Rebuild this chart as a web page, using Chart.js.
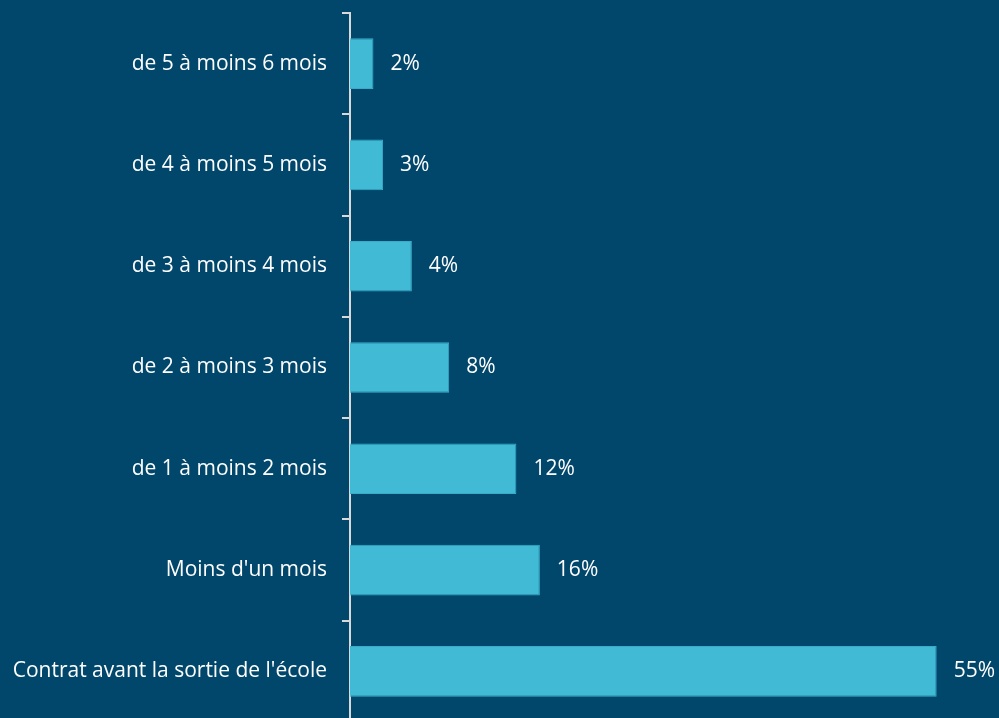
<!DOCTYPE html>
<html>
<head>
<meta charset="utf-8">
<script src="https://cdn.jsdelivr.net/npm/chart.js@4"></script>
<style>
  html, body { margin: 0; padding: 0; background: #00476B; overflow: hidden; }
  #wrap { position: relative; width: 999px; height: 718px; overflow: hidden; }
  #c { display: block; }
</style>
</head>
<body>
<div id="wrap"><canvas id="c" width="999" height="722"></canvas></div>
<script>
const categories = [
  "de 5 à moins 6 mois",
  "de 4 à moins 5 mois",
  "de 3 à moins 4 mois",
  "de 2 à moins 3 mois",
  "de 1 à moins 2 mois",
  "Moins d'un mois",
  "Contrat avant la sortie de l'école"
];
// bar lengths as drawn in the picture (percent)
const barValues = [2.2, 3.1, 5.8, 9.3, 15.6, 17.8, 55];
// value labels as printed next to each bar
const valueLabels = ["2%", "3%", "4%", "8%", "12%", "16%", "55%"];

const FONT = "'Open Sans', sans-serif";

const valueLabelPlugin = {
  id: 'valueLabels',
  afterDatasetsDraw(chart) {
    const ctx = chart.ctx;
    const meta = chart.getDatasetMeta(0);
    ctx.save();
    ctx.font = "21px " + FONT;
    ctx.fillStyle = "#ffffff";
    ctx.textAlign = "left";
    ctx.textBaseline = "middle";
    meta.data.forEach((bar, i) => {
      ctx.fillText(valueLabels[i], bar.x + 17, bar.y);
    });
    ctx.restore();
  }
};

new Chart(document.getElementById('c'), {
  type: 'bar',
  data: {
    labels: categories,
    datasets: [{
      data: barValues,
      backgroundColor: '#41BAD5',
      borderColor: '#38ACC8',
      borderWidth: 1,
      barPercentage: 0.5,
      categoryPercentage: 1.0
    }]
  },
  options: {
    indexAxis: 'y',
    responsive: false,
    animation: false,
    layout: { padding: { top: 13, right: 9, bottom: 0, left: 0 } },
    plugins: {
      legend: { display: false },
      tooltip: { enabled: false }
    },
    scales: {
      x: {
        display: false,
        min: 0,
        max: 60
      },
      y: {
        afterFit(scale) {
          scale.width = 350;
          scale.paddingTop = 0;
          scale.paddingBottom = 0;
        },
        grid: {
          display: true,
          drawOnChartArea: false,
          drawTicks: true,
          tickLength: 8,
          offset: true,
          color: '#D9D9D9',
          lineWidth: 2
        },
        border: { display: true, color: '#D9D9D9', width: 2 },
        ticks: {
          color: '#ffffff',
          padding: 15,
          font: { family: FONT, size: 21 }
        }
      }
    }
  },
  plugins: [valueLabelPlugin]
});
</script>
</body>
</html>
